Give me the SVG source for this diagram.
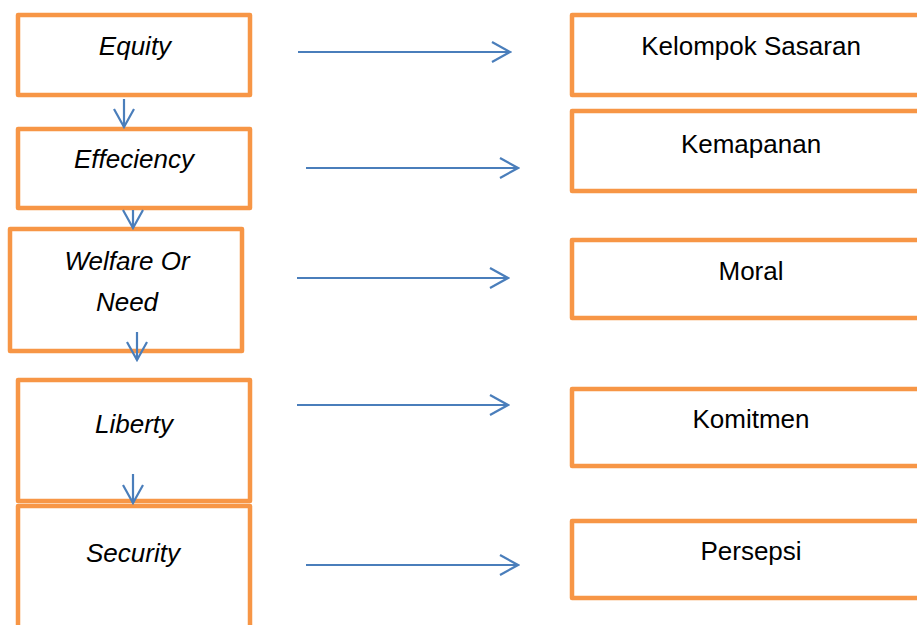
<svg xmlns="http://www.w3.org/2000/svg" width="917" height="625" viewBox="0 0 917 625">
<style>
.box{fill:#fff;stroke:#F79646;stroke-width:4.5;stroke-linejoin:round}
.lt{font-family:"Liberation Sans",Arial,sans-serif;font-style:italic;font-size:26px;fill:#000;text-anchor:middle}
.rt{font-family:"Liberation Sans",Arial,sans-serif;font-size:26px;fill:#000;text-anchor:middle}
.con{stroke:#4A7EBB;stroke-width:2.2;fill:none;marker-end:url(#ah)}
</style>
<defs>
<marker id="ah" markerUnits="userSpaceOnUse" markerWidth="22" markerHeight="24" viewBox="0 0 22 24" refX="20" refY="12" orient="auto">
<path d="M2,2 L20,12 L2,22" fill="none" stroke="#4A7EBB" stroke-width="2.2"/>
</marker>
</defs>
<rect width="917" height="625" fill="#fff"/>
<g id="equity"><rect class="box" x="18" y="15" width="232" height="80"/><text class="lt" x="135" y="55">Equity</text></g>
<g id="effeciency"><rect class="box" x="18" y="129" width="232" height="79"/><text class="lt" x="134" y="168">Effeciency</text></g>
<g id="welfare"><rect class="box" x="10" y="229" width="232" height="122"/><text class="lt" x="127" y="270">Welfare Or</text><text class="lt" x="127" y="311">Need</text></g>
<g id="liberty"><rect class="box" x="18" y="380" width="232" height="121"/><text class="lt" x="134" y="433">Liberty</text></g>
<g id="security"><rect class="box" x="18" y="506" width="232" height="130"/><text class="lt" x="133" y="562">Security</text></g>
<g id="kelompok"><rect class="box" x="572" y="15" width="400" height="80"/><text class="rt" x="751" y="55">Kelompok Sasaran</text></g>
<g id="kemapanan"><rect class="box" x="572" y="111" width="400" height="80"/><text class="rt" x="751" y="153">Kemapanan</text></g>
<g id="moral"><rect class="box" x="572" y="240" width="400" height="78"/><text class="rt" x="751" y="280">Moral</text></g>
<g id="komitmen"><rect class="box" x="572" y="389" width="400" height="77"/><text class="rt" x="751" y="428">Komitmen</text></g>
<g id="persepsi"><rect class="box" x="572" y="521" width="400" height="77"/><text class="rt" x="751" y="560">Persepsi</text></g>
<g id="connectors">
<line class="con" x1="124" y1="99" x2="124" y2="127"/>
<line class="con" x1="133" y1="210" x2="133" y2="228"/>
<line class="con" x1="137" y1="332" x2="137" y2="360"/>
<line class="con" x1="133" y1="474" x2="133" y2="503"/>
<line class="con" x1="298" y1="52" x2="510" y2="52"/>
<line class="con" x1="306" y1="168" x2="518" y2="168"/>
<line class="con" x1="297" y1="278" x2="508" y2="278"/>
<line class="con" x1="297" y1="405" x2="508" y2="405"/>
<line class="con" x1="306" y1="565" x2="518" y2="565"/>
</g>
</svg>
